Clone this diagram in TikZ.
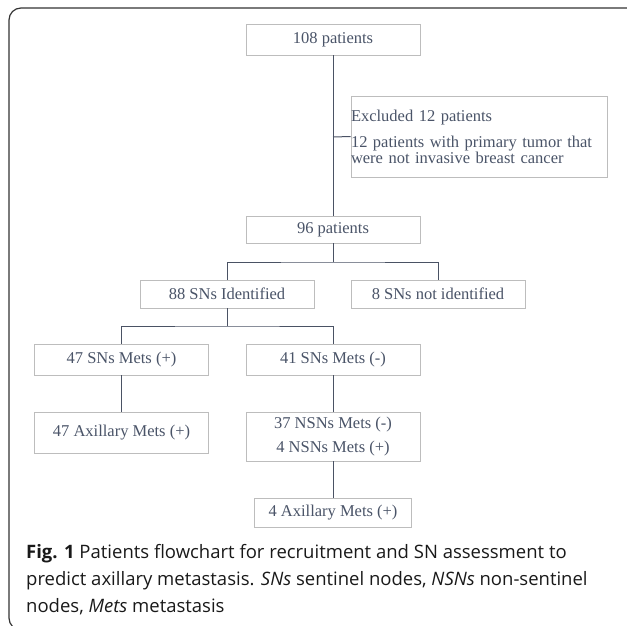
\documentclass[tikz,border=0pt]{standalone}
\usepackage{fontspec}
\setmainfont{Liberation Serif}
\newfontfamily\capfont{Open Sans}
\definecolor{boxtext}{HTML}{4A5468}
\definecolor{linecol}{HTML}{4A5264}
\definecolor{boxline}{HTML}{BDBDBD}
\tikzset{
  flowbox/.style={draw=boxline, line width=0.8pt, fill=white, text=boxtext,
    inner sep=0pt, minimum width=174pt, align=center,
    font=\fontsize{16.5}{24}\selectfont},
  link/.style={draw=linecol, line width=1pt}
}
\begin{document}
\begin{tikzpicture}[x=1pt,y=-1pt]
\useasboundingbox (0,0) rectangle (627,626);
% outer frame
\draw[line width=1.2pt, rounded corners=12pt, black!80] (640,8) -- (9,8) -- (9,630) -- (640,630);
% boxes
\node[flowbox, minimum height=31pt] (p108) at (333,39.5) {108 patients};
\node[flowbox, minimum width=256pt, minimum height=81pt, align=left, text width=256pt,
  font=\fontsize{16.5}{16}\selectfont] (excl) at (479,136.5)
  {Excluded 12 patients\\[10pt]12 patients with primary tumor that\\were not invasive breast cancer};
\node[flowbox, minimum height=27pt] (p96) at (333,229.5) {96 patients};
\node[flowbox, minimum height=28pt] (sn88) at (227,294) {88 SNs Identified};
\node[flowbox, minimum height=28pt] (sn8) at (438,294) {8 SNs not identified};
\node[flowbox, minimum height=31pt] (mp47) at (121.5,359.5) {47 SNs Mets (+)};
\node[flowbox, minimum height=31pt] (mn41) at (333,359.5) {41 SNs Mets (-)};
\node[flowbox, minimum height=41pt] (ax47) at (121.5,432.5) {47 Axillary Mets (+)};
\node[flowbox, minimum height=49pt] (nsn) at (333,436.5) {37 NSNs Mets (-)\\4 NSNs Mets (+)};
\node[flowbox, minimum width=157pt, minimum height=29pt] (ax4) at (333,512.5) {4 Axillary Mets (+)};
% connectors
\coordinate (split0) at (333,137);
\coordinate (split1) at (333,262);
\coordinate (split2) at (227,326);
\draw[link] (p108) -- (p96);
\draw[link] (split0) -- (excl.west);
\draw[link] (p96) -- (split1);
\draw[link] (sn88.north) |- (split1) -| (sn8.north);
\draw[link] (sn88) -- (split2);
\draw[link] (mp47.north) |- (split2) -| (mn41.north);
\draw[link] (mp47) -- (ax47);
\draw[link] (mn41) -- (nsn);
\draw[link] (nsn) -- (ax4);
% caption
\node[anchor=west, align=left, inner sep=0pt, text=black!90,
  font=\capfont\fontsize{18.5}{27}\selectfont] (caption) at (26,580)
  {\textbf{Fig. 1} Patients flowchart for recruitment and SN assessment to\\
   predict axillary metastasis. \textit{SNs} sentinel nodes, \textit{NSNs} non-sentinel\\
   nodes, \textit{Mets} metastasis};
\end{tikzpicture}
\end{document}
